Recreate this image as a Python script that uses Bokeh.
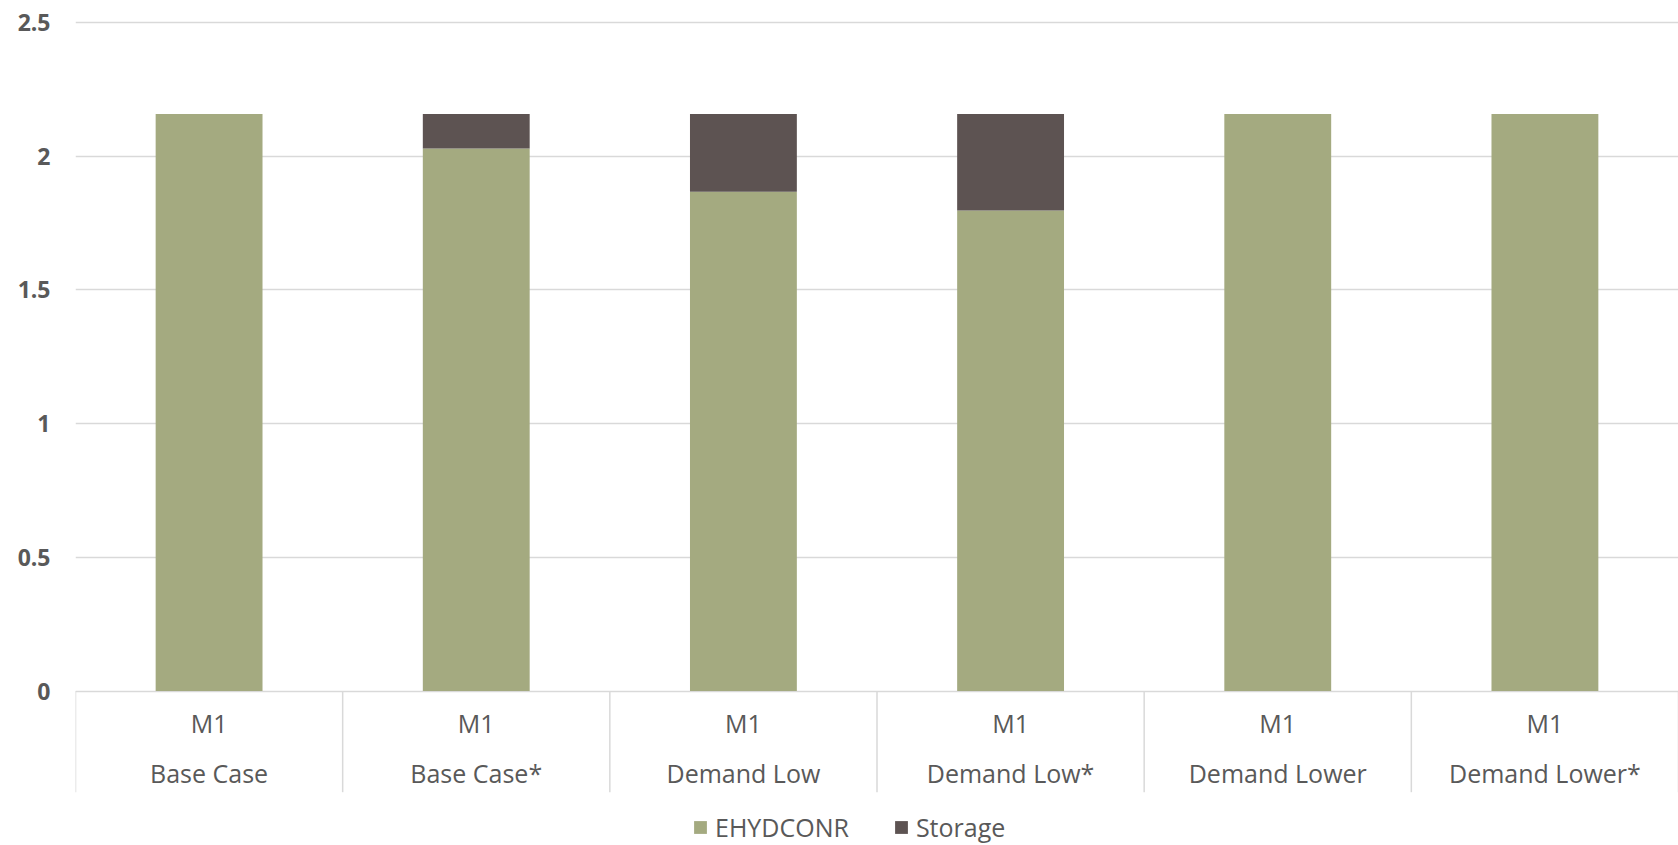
from bokeh.plotting import figure
from bokeh.models import ColumnDataSource, Range1d, FixedTicker, Legend, LegendItem
from bokeh.core.properties import value
from bokeh.embed import file_html
from bokeh.resources import INLINE

# Scenario runs (outer label) and model (inner label)
scenarios = ["Base Case", "Base Case*", "Demand Low", "Demand Low*", "Demand Lower", "Demand Lower*"]
models = ["M1", "M1", "M1", "M1", "M1", "M1"]

# Stacked series values
ehydconr = [2.157, 2.028, 1.866, 1.796, 2.157, 2.157]
storage = [0.0, 0.129, 0.291, 0.361, 0.0, 0.0]

series_names = ["EHYDCONR", "Storage"]
series_colors = ["#A4AA80", "#5D5352"]

y_ticks = [0, 0.5, 1, 1.5, 2, 2.5]
y_tick_labels = ["0", "0.5", "1", "1.5", "2", "2.5"]

FONT = "Open Sans"
TEXT_COLOR = "#595959"
GRID_COLOR = "#D9D9D9"

n = len(scenarios)
centers = [i + 0.5 for i in range(n)]
bounds = list(range(n + 1))

source = ColumnDataSource(dict(x=centers, scenario=scenarios, model=models,
                               EHYDCONR=ehydconr, Storage=storage))

# Vertical scale: 267.5 px per unit, zero line 690.5 px from the top of an 845 px canvas
PX_PER_UNIT = 267.5
ZERO_PX = 690.5
H = 845
y_hi = ZERO_PX / PX_PER_UNIT
y_lo = -(H - ZERO_PX) / PX_PER_UNIT

p = figure(width=1678, height=H, x_range=Range1d(0, n), y_range=Range1d(y_lo, y_hi),
           output_backend="svg", toolbar_location=None,
           min_border_left=75, min_border_right=0, min_border_top=0, min_border_bottom=0)
p.background_fill_color = "white"
p.border_fill_color = "white"
p.outline_line_color = None
p.xaxis.visible = False
p.xgrid.visible = False

yax = p.yaxis[0]
yax.ticker = FixedTicker(ticks=y_ticks)
yax.major_label_overrides = {t: s for t, s in zip(y_ticks, y_tick_labels)}
yax.axis_line_color = None
yax.major_tick_in = 0
yax.major_tick_out = 0
yax.minor_tick_line_color = None
yax.major_label_standoff = 25
yax.major_label_text_font = FONT
yax.major_label_text_font_style = "bold"
yax.major_label_text_font_size = "23px"
yax.major_label_text_color = TEXT_COLOR

p.ygrid.ticker = FixedTicker(ticks=y_ticks)
p.ygrid.grid_line_color = GRID_COLOR
p.ygrid.grid_line_width = 1.5

renderers = p.vbar_stack(series_names, x="x", width=0.4, source=source,
                         color=series_colors, line_color=None)

# Category axis drawn below the zero line: separators and two label rows
sep_bottom = -(791.7 - ZERO_PX) / PX_PER_UNIT
p.segment(x0=bounds, y0=[0] * len(bounds), x1=bounds, y1=[sep_bottom] * len(bounds),
          line_color=GRID_COLOR, line_width=1.5)

y_model = -(722.0 - ZERO_PX) / PX_PER_UNIT
y_scen = -(772.0 - ZERO_PX) / PX_PER_UNIT
p.text(x="x", y=y_model, text="model", source=source, text_align="center",
       text_baseline="middle", text_font=value(FONT), text_font_size="25px",
       text_color=TEXT_COLOR)
p.text(x="x", y=y_scen, text="scenario", source=source, text_align="center",
       text_baseline="middle", text_font=value(FONT), text_font_size="25px",
       text_color=TEXT_COLOR)

legend = Legend(items=[LegendItem(label=name, renderers=[r]) for name, r in zip(series_names, renderers)],
                orientation="horizontal", location=(617, 1),
                glyph_width=16, glyph_height=16, label_standoff=7, spacing=44,
                padding=0, margin=0, border_line_color=None, background_fill_alpha=0,
                label_text_font=FONT, label_text_font_size="25px", label_text_color=TEXT_COLOR)
p.add_layout(legend)

open("out.html", "w").write(file_html(p, INLINE))
